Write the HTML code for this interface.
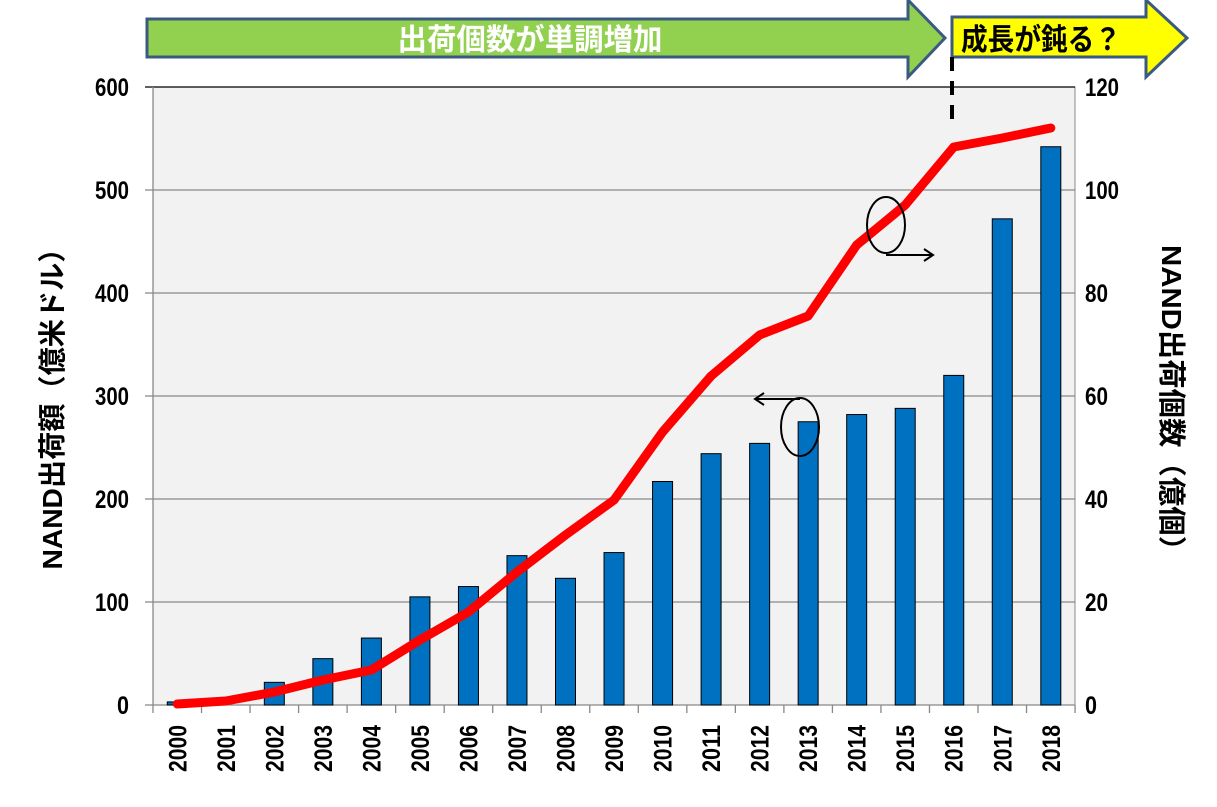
<!DOCTYPE html>
<html><head><meta charset="utf-8"><style>
body{margin:0;background:#fff;}
svg{display:block;}
text{font-family:"Liberation Sans","Noto Sans CJK JP",sans-serif;font-weight:bold;}
</style></head><body>
<svg width="1217" height="807" viewBox="0 0 1217 807" xmlns="http://www.w3.org/2000/svg">
<polygon points="147,19 908,19 908,0 945,38 908,77 908,57 147,57" fill="#92d050" stroke="#3a5a80" stroke-width="3"/>
<text x="530" y="50" font-size="30" fill="#fff" text-anchor="middle" textLength="265" lengthAdjust="spacingAndGlyphs">出荷個数が単調増加</text>
<polygon points="952,17 1146,17 1146,0 1187,38 1146,77 1146,57 952,57" fill="#ffff00" stroke="#3a5a80" stroke-width="3"/>
<text x="1041" y="50" font-size="30" fill="#000" text-anchor="middle" textLength="160" lengthAdjust="spacingAndGlyphs">成長が鈍る？</text>
<rect x="153" y="87" width="922" height="618" fill="#f2f2f2" stroke="#888" stroke-width="1"/>
<g stroke="#888" stroke-width="1.3">
<line x1="145" y1="87" x2="1075" y2="87" stroke="#000"/>
<line x1="145" y1="190" x2="1075" y2="190"/>
<line x1="145" y1="293" x2="1075" y2="293"/>
<line x1="145" y1="396" x2="1075" y2="396"/>
<line x1="145" y1="499" x2="1075" y2="499"/>
<line x1="145" y1="602" x2="1075" y2="602"/>
<line x1="145" y1="705" x2="1075" y2="705"/>
<line x1="153" y1="87" x2="153" y2="713"/>
</g>
<g stroke="#888" stroke-width="1.3" id="ticks"></g>
<line x1="952" y1="57" x2="952" y2="122" stroke="#000" stroke-width="4" stroke-dasharray="14,10"/>
<g font-size="25" text-anchor="end" fill="#000">
<text x="129" y="96" textLength="34" lengthAdjust="spacingAndGlyphs">600</text><text x="129" y="199" textLength="34" lengthAdjust="spacingAndGlyphs">500</text><text x="129" y="302" textLength="34" lengthAdjust="spacingAndGlyphs">400</text>
<text x="129" y="405" textLength="34" lengthAdjust="spacingAndGlyphs">300</text><text x="129" y="508" textLength="34" lengthAdjust="spacingAndGlyphs">200</text><text x="129" y="611" textLength="34" lengthAdjust="spacingAndGlyphs">100</text><text x="129" y="714" textLength="12" lengthAdjust="spacingAndGlyphs">0</text>
</g>
<g font-size="25" text-anchor="start" fill="#000">
<text x="1085" y="96" textLength="34" lengthAdjust="spacingAndGlyphs">120</text><text x="1085" y="199" textLength="34" lengthAdjust="spacingAndGlyphs">100</text><text x="1085" y="302" textLength="23" lengthAdjust="spacingAndGlyphs">80</text>
<text x="1085" y="405" textLength="23" lengthAdjust="spacingAndGlyphs">60</text><text x="1085" y="508" textLength="23" lengthAdjust="spacingAndGlyphs">40</text><text x="1085" y="611" textLength="23" lengthAdjust="spacingAndGlyphs">20</text><text x="1085" y="714" textLength="12" lengthAdjust="spacingAndGlyphs">0</text>
</g>
<text transform="translate(62,402) rotate(-90)" font-size="28" text-anchor="middle" textLength="335" lengthAdjust="spacingAndGlyphs">NAND出荷額（億米ドル）</text>
<text transform="translate(1162,405) rotate(90)" font-size="28" text-anchor="middle" textLength="320" lengthAdjust="spacingAndGlyphs">NAND出荷個数（億個）</text>
<g id="bars" fill="#0070c0" stroke="#000" stroke-width="1"></g>
<g id="years" font-size="25" fill="#000"></g>
<polyline id="line" fill="none" stroke="#ff0000" stroke-width="9" stroke-linejoin="round" stroke-linecap="round"/>
<ellipse cx="886" cy="225" rx="19" ry="28" fill="none" stroke="#000" stroke-width="2"/>
<line x1="886" y1="255" x2="932" y2="255" stroke="#000" stroke-width="2"/>
<polyline points="924,249 933,255 924,261" fill="none" stroke="#000" stroke-width="2"/>
<ellipse cx="800" cy="427" rx="19" ry="29" fill="none" stroke="#000" stroke-width="2"/>
<line x1="755" y1="399" x2="800" y2="399" stroke="#000" stroke-width="2"/>
<polyline points="764,393 755,399 764,405" fill="none" stroke="#000" stroke-width="2"/>
<script>
var vals=[3,0,22,45,65,105,115,145,123,148,217,244,254,275,282,288,320,472,542];
var ly=[704,701,692,680,670,640,612,572,535,500,432,376,335,316,245,205,147,138,128];
var ns="http://www.w3.org/2000/svg",bw=48.53,x0=153;
var bars=document.getElementById('bars'),yrs=document.getElementById('years'),tk=document.getElementById('ticks');
var pts=[];
for(var i=0;i<19;i++){
 var c=x0+(i+0.5)*bw;
 var h=vals[i]*1.03;
 if(h>0){var r=document.createElementNS(ns,'rect');r.setAttribute('x',c-10);r.setAttribute('y',705-h);r.setAttribute('width',20);r.setAttribute('height',h);bars.appendChild(r);}
 var t=document.createElementNS(ns,'text');t.setAttribute('transform','translate('+(c+9)+',772) rotate(-90)');t.setAttribute('textLength','47');t.setAttribute('lengthAdjust','spacingAndGlyphs');t.textContent=2000+i;yrs.appendChild(t);
 var l=document.createElementNS(ns,'line');var xx=x0+(i+1)*bw;l.setAttribute('x1',xx);l.setAttribute('x2',xx);l.setAttribute('y1',705);l.setAttribute('y2',713);tk.appendChild(l);
 pts.push(c+','+ly[i]);
}
document.getElementById('line').setAttribute('points',pts.join(' '));
</script>
</svg>
</body></html>
